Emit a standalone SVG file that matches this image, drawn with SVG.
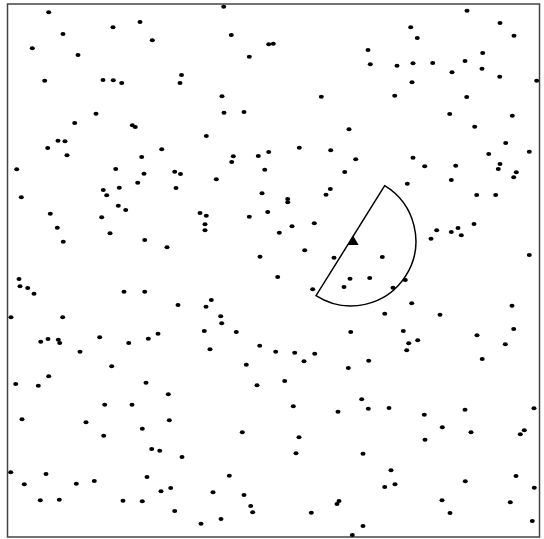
<svg xmlns="http://www.w3.org/2000/svg" width="544" height="539" viewBox="0 0 544 539">
<style>
.frame{fill:#fff;stroke:#444;stroke-width:1.5}
.d{fill:#000}
.sector{fill:none;stroke:#000;stroke-width:1.5}
</style>
<defs><ellipse id="p" cx="0" cy="0" rx="2.5" ry="2" class="d"/></defs>
<rect class="frame" x="7.5" y="4" width="532" height="533"/>
<g id="dots">
<use href="#p" x="48.7" y="12.3"/><use href="#p" x="113" y="27.3"/><use href="#p" x="140" y="22"/><use href="#p" x="63" y="34"/><use href="#p" x="152.3" y="40.3"/><use href="#p" x="32.3" y="48.3"/><use href="#p" x="78" y="55"/><use href="#p" x="181.5" y="75"/><use href="#p" x="180" y="83"/><use href="#p" x="44.7" y="80.7"/><use href="#p" x="103" y="80"/><use href="#p" x="113.3" y="80.3"/><use href="#p" x="121.7" y="83"/><use href="#p" x="96" y="113.7"/><use href="#p" x="74.7" y="123"/><use href="#p" x="132.3" y="125.3"/><use href="#p" x="135.3" y="127"/><use href="#p" x="58" y="140.7"/><use href="#p" x="65" y="141.3"/><use href="#p" x="47.7" y="148"/><use href="#p" x="161.7" y="149.3"/><use href="#p" x="67" y="155.3"/><use href="#p" x="141.7" y="157"/><use href="#p" x="16.7" y="169.3"/><use href="#p" x="115.7" y="169"/><use href="#p" x="144" y="173.7"/><use href="#p" x="174.7" y="171.7"/><use href="#p" x="180.5" y="174"/>
<use href="#p" x="223.7" y="6.7"/><use href="#p" x="231.3" y="35"/><use href="#p" x="268.7" y="44.3"/><use href="#p" x="273.3" y="43.7"/><use href="#p" x="249.3" y="56.7"/><use href="#p" x="222" y="96.3"/><use href="#p" x="321.3" y="96.7"/><use href="#p" x="224" y="112.7"/><use href="#p" x="244" y="112"/><use href="#p" x="349" y="129.3"/><use href="#p" x="206.3" y="136"/><use href="#p" x="299.3" y="147.7"/><use href="#p" x="330.7" y="150.3"/><use href="#p" x="233.3" y="156.3"/><use href="#p" x="231.7" y="162"/><use href="#p" x="258.3" y="156"/><use href="#p" x="268.7" y="152"/><use href="#p" x="355.7" y="159.3"/><use href="#p" x="264.7" y="169.7"/><use href="#p" x="344.7" y="172"/><use href="#p" x="216.3" y="179.3"/>
<use href="#p" x="467" y="10.7"/><use href="#p" x="500" y="23"/><use href="#p" x="410.7" y="27.3"/><use href="#p" x="417.3" y="38"/><use href="#p" x="514" y="35.7"/><use href="#p" x="368" y="50"/><use href="#p" x="482.7" y="53"/><use href="#p" x="370.3" y="64.3"/><use href="#p" x="397" y="65.7"/><use href="#p" x="413" y="63.3"/><use href="#p" x="432.7" y="63"/><use href="#p" x="465" y="61"/><use href="#p" x="452" y="72.3"/><use href="#p" x="482" y="68.7"/><use href="#p" x="499.7" y="76.7"/><use href="#p" x="536.7" y="80.7"/><use href="#p" x="412" y="82.3"/><use href="#p" x="394.7" y="95.7"/><use href="#p" x="466.7" y="97"/><use href="#p" x="449.7" y="114"/><use href="#p" x="512.3" y="115.7"/><use href="#p" x="474.7" y="126.7"/><use href="#p" x="505.7" y="143"/><use href="#p" x="488.7" y="154"/><use href="#p" x="529.3" y="151.7"/><use href="#p" x="413" y="157.7"/><use href="#p" x="424.7" y="166.3"/><use href="#p" x="455.7" y="165.7"/><use href="#p" x="500" y="164"/><use href="#p" x="498.3" y="169"/><use href="#p" x="516.3" y="172.3"/><use href="#p" x="513.7" y="177.3"/><use href="#p" x="451.3" y="180"/>
<use href="#p" x="21.3" y="197.3"/><use href="#p" x="103.3" y="190"/><use href="#p" x="106.7" y="195.3"/><use href="#p" x="119.3" y="187.7"/><use href="#p" x="137.7" y="182.7"/><use href="#p" x="176" y="188"/><use href="#p" x="118.3" y="205.7"/><use href="#p" x="125.7" y="210"/><use href="#p" x="50.3" y="213.7"/><use href="#p" x="101.7" y="217.3"/><use href="#p" x="57.3" y="227.7"/><use href="#p" x="110" y="233.3"/><use href="#p" x="63.3" y="241.7"/><use href="#p" x="144.7" y="240"/><use href="#p" x="167" y="247.3"/><use href="#p" x="19" y="279"/><use href="#p" x="20" y="286.3"/><use href="#p" x="27.7" y="288"/><use href="#p" x="34" y="293.7"/><use href="#p" x="124" y="291.7"/><use href="#p" x="144.7" y="291.7"/><use href="#p" x="178" y="305"/><use href="#p" x="11" y="317.3"/><use href="#p" x="62.7" y="317.3"/><use href="#p" x="40.7" y="341.7"/><use href="#p" x="48" y="339"/><use href="#p" x="58.3" y="339.7"/><use href="#p" x="59.7" y="343"/><use href="#p" x="80" y="351.7"/><use href="#p" x="99.7" y="337.3"/><use href="#p" x="128.7" y="343"/><use href="#p" x="148.3" y="338.7"/><use href="#p" x="158" y="333.7"/>
<use href="#p" x="262" y="193.3"/><use href="#p" x="287.7" y="199"/><use href="#p" x="287.7" y="202.3"/><use href="#p" x="330.3" y="189"/><use href="#p" x="326" y="194.7"/><use href="#p" x="200" y="213"/><use href="#p" x="206.3" y="215.7"/><use href="#p" x="205" y="224.3"/><use href="#p" x="205" y="230.3"/><use href="#p" x="249.3" y="216.7"/><use href="#p" x="267.7" y="212"/><use href="#p" x="292" y="226.3"/><use href="#p" x="314.3" y="223.3"/><use href="#p" x="279.3" y="232.7"/><use href="#p" x="304.7" y="250.3"/><use href="#p" x="260" y="256.7"/><use href="#p" x="334" y="257.7"/><use href="#p" x="277.7" y="277"/><use href="#p" x="350" y="278.7"/><use href="#p" x="344" y="287"/><use href="#p" x="312.7" y="289.3"/><use href="#p" x="211.3" y="300"/><use href="#p" x="206" y="306.7"/><use href="#p" x="220.7" y="316.3"/><use href="#p" x="221.7" y="323.3"/><use href="#p" x="204.3" y="331"/><use href="#p" x="236.3" y="332"/><use href="#p" x="350.7" y="332"/><use href="#p" x="210" y="349.3"/><use href="#p" x="259.7" y="345.7"/><use href="#p" x="275.7" y="351.7"/><use href="#p" x="294.7" y="352.7"/><use href="#p" x="314.7" y="353.7"/>
<use href="#p" x="407.3" y="183.7"/><use href="#p" x="476.7" y="195"/><use href="#p" x="495.7" y="195"/><use href="#p" x="436.7" y="230.3"/><use href="#p" x="431" y="238.7"/><use href="#p" x="451.3" y="232"/><use href="#p" x="458" y="228"/><use href="#p" x="461.3" y="235.3"/><use href="#p" x="474" y="224"/><use href="#p" x="529.3" y="255"/><use href="#p" x="382.3" y="257"/><use href="#p" x="369.7" y="278"/><use href="#p" x="405.3" y="280"/><use href="#p" x="393" y="287.7"/><use href="#p" x="411.7" y="303.3"/><use href="#p" x="384.7" y="313.7"/><use href="#p" x="440" y="314.7"/><use href="#p" x="512" y="305.7"/><use href="#p" x="403.3" y="331"/><use href="#p" x="513.7" y="329"/><use href="#p" x="417.7" y="340.3"/><use href="#p" x="408.7" y="343.3"/><use href="#p" x="406.7" y="350.3"/><use href="#p" x="477" y="335.3"/><use href="#p" x="505.3" y="344.3"/><use href="#p" x="482.2" y="359"/>
<use href="#p" x="111.7" y="366.3"/><use href="#p" x="48.7" y="376.3"/><use href="#p" x="15.7" y="384"/><use href="#p" x="38.3" y="385.7"/><use href="#p" x="146" y="382.7"/><use href="#p" x="168.3" y="394.3"/><use href="#p" x="104.7" y="404.7"/><use href="#p" x="132" y="404.7"/><use href="#p" x="22" y="419.3"/><use href="#p" x="86" y="422.3"/><use href="#p" x="169.3" y="420.3"/><use href="#p" x="142.3" y="428.7"/><use href="#p" x="103.7" y="435.7"/><use href="#p" x="151.7" y="449"/><use href="#p" x="159.7" y="450.7"/><use href="#p" x="182" y="457"/><use href="#p" x="10.7" y="472.3"/><use href="#p" x="46" y="474"/><use href="#p" x="24.3" y="484.3"/><use href="#p" x="76.3" y="483.7"/><use href="#p" x="94.3" y="481"/><use href="#p" x="147" y="477"/><use href="#p" x="161" y="491.3"/><use href="#p" x="170.7" y="488"/><use href="#p" x="40.3" y="500.3"/><use href="#p" x="59.3" y="499.7"/><use href="#p" x="123" y="500.7"/><use href="#p" x="142.3" y="501.3"/><use href="#p" x="174.7" y="511"/>
<use href="#p" x="246.3" y="364.7"/><use href="#p" x="304" y="361.3"/><use href="#p" x="348.3" y="368"/><use href="#p" x="257" y="385.3"/><use href="#p" x="284.7" y="381"/><use href="#p" x="361.7" y="399.3"/><use href="#p" x="293.3" y="406.3"/><use href="#p" x="338" y="411.7"/><use href="#p" x="242.3" y="432.3"/><use href="#p" x="299" y="437.3"/><use href="#p" x="296" y="453.3"/><use href="#p" x="363" y="453.7"/><use href="#p" x="229.3" y="475.7"/><use href="#p" x="213" y="492.3"/><use href="#p" x="244" y="495"/><use href="#p" x="250.7" y="506"/><use href="#p" x="252.7" y="512.3"/><use href="#p" x="221" y="519"/><use href="#p" x="201" y="523.7"/><use href="#p" x="311.3" y="512.7"/><use href="#p" x="339" y="501"/><use href="#p" x="337" y="504"/><use href="#p" x="363" y="526"/><use href="#p" x="352.3" y="535"/>
<use href="#p" x="368.7" y="360.7"/><use href="#p" x="368.3" y="408.7"/><use href="#p" x="389" y="408"/><use href="#p" x="424.3" y="414.7"/><use href="#p" x="465" y="409.7"/><use href="#p" x="534" y="408.3"/><use href="#p" x="442.3" y="427.3"/><use href="#p" x="471" y="432.3"/><use href="#p" x="524.3" y="430.3"/><use href="#p" x="520.3" y="434.3"/><use href="#p" x="425" y="439.7"/><use href="#p" x="391" y="470.3"/><use href="#p" x="384.7" y="487"/><use href="#p" x="395" y="484.3"/><use href="#p" x="465.3" y="481.3"/><use href="#p" x="516" y="476"/><use href="#p" x="534.3" y="487.7"/><use href="#p" x="442" y="500.3"/><use href="#p" x="450" y="513"/><use href="#p" x="510.3" y="502.3"/><use href="#p" x="532.3" y="521"/>
</g>
<g id="sector">
<path class="sector" d="M384.7,185.7 L316,295.7 A64.85,64.85 0 1 0 384.7,185.7 Z"/>
<polygon points="353,235.5 347.5,245 358.7,245" fill="#000"/>
</g>
</svg>
